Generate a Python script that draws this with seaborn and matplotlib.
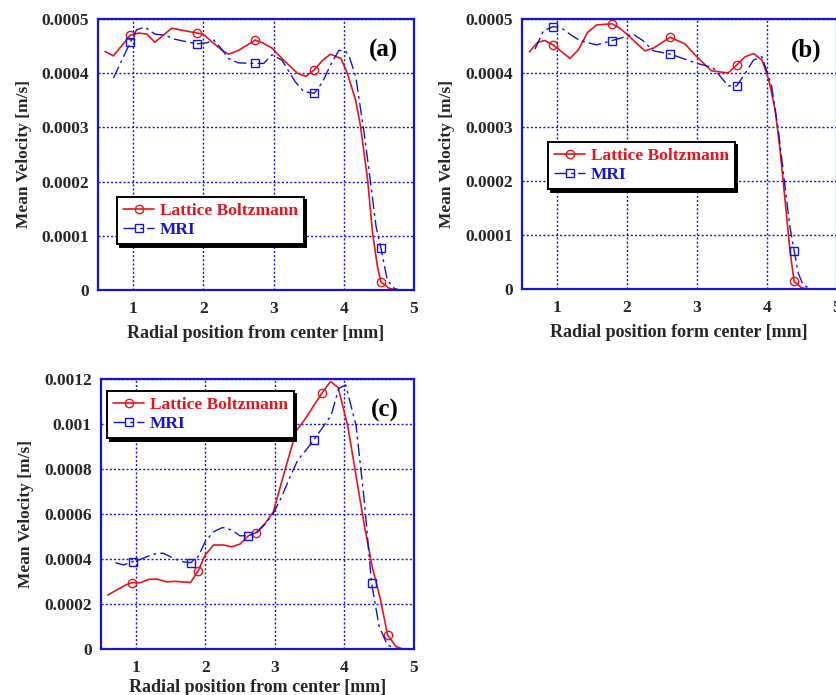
import numpy as np
import pandas as pd
import seaborn as sns
import matplotlib
matplotlib.use("Agg")
import matplotlib.pyplot as plt

sns.set_theme(style="white")
plt.rcParams["font.family"] = ["Liberation Serif", "DejaVu Serif"]
plt.rcParams["font.weight"] = "bold"

# ---------------- panel (a) ----------------
a_lb_x = [0.60, 0.72, 0.96, 1.08, 1.20, 1.31, 1.55, 1.91, 2.00, 2.12, 2.27, 2.36, 2.50, 2.74,
          2.86, 2.98, 3.12, 3.34, 3.46, 3.58, 3.70, 3.81, 3.96, 4.05, 4.17, 4.24, 4.34, 4.41,
          4.48, 4.53, 4.65, 4.76]
a_lb_y = [4.40, 4.32, 4.70, 4.74, 4.72, 4.57, 4.83, 4.74, 4.72, 4.58, 4.42, 4.35, 4.42, 4.61,
          4.55, 4.46, 4.27, 4.00, 3.94, 4.06, 4.24, 4.35, 4.27, 4.00, 3.50, 3.01, 2.03, 1.05,
          0.43, 0.15, 0.03, 0.00]
a_lb_marks = [2, 7, 13, 19, 29]

a_mri_x = [0.72, 0.84, 0.96, 1.05, 1.17, 1.31, 1.46, 1.58, 1.91, 2.05, 2.15, 2.27, 2.36, 2.50,
           2.74, 2.86, 2.98, 3.12, 3.31, 3.43, 3.58, 3.70, 3.81, 3.93, 4.03, 4.08, 4.17, 4.29,
           4.39, 4.46, 4.53, 4.62, 4.72, 4.80]
a_mri_y = [3.91, 4.24, 4.57, 4.80, 4.85, 4.72, 4.70, 4.63, 4.54, 4.56, 4.61, 4.43, 4.27, 4.19,
           4.18, 4.18, 4.34, 4.24, 3.84, 3.66, 3.63, 3.84, 4.15, 4.42, 4.40, 4.30, 3.94, 2.90,
           1.90, 1.17, 0.77, 0.18, 0.03, 0.00]
a_mri_marks = [2, 8, 14, 20, 30]

# ---------------- panel (b) ----------------
b_lb_x = [0.61, 0.73, 0.83, 0.95, 1.19, 1.31, 1.44, 1.57, 1.79, 1.90, 2.02, 2.14, 2.26, 2.38,
          2.62, 2.83, 3.00, 3.21, 3.45, 3.57, 3.69, 3.81, 3.93, 4.00, 4.05, 4.12, 4.19, 4.26,
          4.33, 4.39, 4.50, 4.60]
b_lb_y = [4.39, 4.57, 4.60, 4.52, 4.27, 4.43, 4.75, 4.89, 4.91, 4.83, 4.70, 4.55, 4.41, 4.46,
          4.66, 4.54, 4.30, 4.04, 4.00, 4.15, 4.30, 4.36, 4.24, 3.99, 3.75, 3.31, 2.57, 1.65,
          0.72, 0.14, 0.02, 0.00]
b_lb_marks = [3, 8, 14, 19, 29]

b_mri_x = [0.69, 0.81, 0.95, 1.07, 1.21, 1.33, 1.57, 1.79, 1.90, 2.09, 2.23, 2.38, 2.62, 2.80,
           3.00, 3.23, 3.45, 3.57, 3.69, 3.81, 3.93, 4.02, 4.07, 4.17, 4.26, 4.33, 4.39, 4.45,
           4.52, 4.64]
b_mri_y = [4.44, 4.78, 4.86, 4.83, 4.70, 4.60, 4.52, 4.60, 4.64, 4.72, 4.60, 4.41, 4.35, 4.27,
           4.18, 4.10, 3.76, 3.76, 3.99, 4.24, 4.30, 3.96, 3.75, 2.88, 1.90, 1.15, 0.71, 0.29,
           0.07, 0.00]
b_mri_marks = [2, 7, 12, 17, 26]

# ---------------- panel (c) ----------------
c_lb_x = [0.60, 0.71, 0.86, 0.95, 1.07, 1.19, 1.31, 1.45, 1.57, 1.79, 1.90, 2.00, 2.12, 2.26,
          2.38, 2.50, 2.62, 2.73, 2.86, 2.98, 3.14, 3.31, 3.43, 3.55, 3.68, 3.80, 3.91, 4.05,
          4.17, 4.29, 4.40, 4.52, 4.62, 4.74, 4.83]
c_lb_y = [2.39, 2.58, 2.84, 2.94, 2.94, 3.09, 3.10, 2.98, 3.00, 2.95, 3.47, 4.17, 4.62, 4.62,
          4.54, 4.66, 5.03, 5.17, 5.58, 6.10, 7.89, 9.71, 10.20, 10.78, 11.40, 11.90, 11.64,
          9.90, 7.66, 5.44, 3.65, 2.17, 0.61, 0.10, 0.00]
c_lb_marks = [3, 10, 17, 24, 32]

c_mri_x = [0.71, 0.83, 0.96, 1.07, 1.19, 1.31, 1.40, 1.55, 1.67, 1.79, 1.90, 2.00, 2.12, 2.25,
           2.38, 2.50, 2.61, 2.74, 2.86, 2.98, 3.10, 3.21, 3.33, 3.45, 3.56, 3.68, 3.81, 3.92,
           4.02, 4.17, 4.29, 4.39, 4.50, 4.62, 4.74]
c_mri_y = [3.83, 3.73, 3.88, 3.98, 4.13, 4.25, 4.25, 4.02, 3.88, 3.83, 4.10, 4.77, 5.21, 5.40,
           5.29, 5.03, 5.03, 5.17, 5.54, 6.03, 6.77, 7.59, 8.40, 8.85, 9.30, 9.82, 10.40, 11.60,
           11.75, 9.90, 6.47, 2.94, 0.98, 0.16, 0.00]
c_mri_marks = [2, 9, 16, 24, 31]

panels = [
    dict(tag="(a)", xlabel="Radial position from center [mm]", scale=1e-4,
         ymax=0.0005, yticks=[0, 0.0001, 0.0002, 0.0003, 0.0004, 0.0005],
         yfmt=["0", "0.0001", "0.0002", "0.0003", "0.0004", "0.0005"],
         lb=(a_lb_x, a_lb_y, a_lb_marks), mri=(a_mri_x, a_mri_y, a_mri_marks),
         rect=[0.1172, 0.5827, 0.3780, 0.3900], leg=(0.140, 0.7165), xpad=5.5),
    dict(tag="(b)", xlabel="Radial position form center [mm]", scale=1e-4,
         ymax=0.0005, yticks=[0, 0.0001, 0.0002, 0.0003, 0.0004, 0.0005],
         yfmt=["0", "0.0001", "0.0002", "0.0003", "0.0004", "0.0005"],
         lb=(b_lb_x, b_lb_y, b_lb_marks), mri=(b_mri_x, b_mri_y, b_mri_marks),
         rect=[0.6240, 0.5842, 0.3770, 0.3885], leg=(0.6555, 0.7957), xpad=5.5),
    dict(tag="(c)", xlabel="Radial position from center [mm]", scale=1e-4,
         ymax=0.0012, yticks=[0, 0.0002, 0.0004, 0.0006, 0.0008, 0.001, 0.0012],
         yfmt=["0", "0.0002", "0.0004", "0.0006", "0.0008", "0.001", "0.0012"],
         lb=(c_lb_x, c_lb_y, c_lb_marks), mri=(c_mri_x, c_mri_y, c_mri_marks),
         rect=[0.1205, 0.0666, 0.3747, 0.3876], leg=(0.128, 0.4374), xpad=2.5),
]

xticks = [1, 2, 3, 4, 5]
RED = "#e8141c"
BLUE = "#1414d2"

fig = plt.figure(figsize=(8.36, 6.95), dpi=100)

for p in panels:
    ax = fig.add_axes(p["rect"])
    lx, ly, lm = p["lb"]
    mx, my, mm = p["mri"]
    df_lb = pd.DataFrame({"r": lx, "v": np.array(ly) * p["scale"]})
    df_mri = pd.DataFrame({"r": mx, "v": np.array(my) * p["scale"]})

    sns.lineplot(data=df_lb, x="r", y="v", ax=ax, sort=False, estimator=None,
                 color=RED, lw=1.2, marker="o", markevery=lm, ms=6,
                 mfc="none", mec=RED, mew=1.0, label="Lattice Boltzmann", legend=False)
    sns.lineplot(data=df_mri, x="r", y="v", ax=ax, sort=False, estimator=None,
                 color=BLUE, lw=1.0, linestyle=(0, (9, 3, 2, 3)), marker="s",
                 markevery=mm, ms=6, mfc="none", mec=BLUE, mew=1.0,
                 label="MRI", legend=False)

    ax.set_xlim(0.5, 5)
    ax.set_ylim(0, p["ymax"])
    ax.set_xticks(xticks)
    ax.set_xticklabels([str(t) for t in xticks])
    ax.set_yticks(p["yticks"])
    ax.set_yticklabels(p["yfmt"])
    ax.tick_params(axis="x", length=0, pad=8, labelsize=12.5)
    ax.tick_params(axis="y", length=0, pad=6.5, labelsize=12.5)
    for lab in ax.get_xticklabels() + ax.get_yticklabels():
        lab.set_fontweight("bold")
    ax.grid(True, color=BLUE, linestyle=(0, (1.5, 1.5)), linewidth=1.0)
    for s in ax.spines.values():
        s.set_color(BLUE)
        s.set_linewidth(1.6)
        s.set_visible(True)

    ax.set_xlabel(p["xlabel"], fontsize=13, fontweight="bold", labelpad=p["xpad"])
    ax.set_ylabel("Mean Velocity [m/s]", fontsize=12.5, fontweight="bold", labelpad=7)

    ax.text(0.95, 0.885, p["tag"], transform=ax.transAxes, ha="right", va="center",
            fontsize=18, fontweight="bold", color="black")

    leg = ax.legend(loc="upper left", bbox_to_anchor=p["leg"],
                    bbox_transform=fig.transFigure, borderaxespad=0,
                    frameon=True, fancybox=False, framealpha=1,
                    shadow={"color": "black", "alpha": 1.0},
                    prop={"family": "Liberation Serif", "weight": "bold", "size": 12.5},
                    handlelength=1.8, handletextpad=0.3, labelspacing=0.15,
                    borderpad=0.35, numpoints=1)
    leg.get_frame().set_edgecolor("black")
    leg.get_frame().set_linewidth(1.4)
    for txt, col in zip(leg.get_texts(), [RED, BLUE]):
        txt.set_color(col)

fig.savefig("out.png", dpi=100)
